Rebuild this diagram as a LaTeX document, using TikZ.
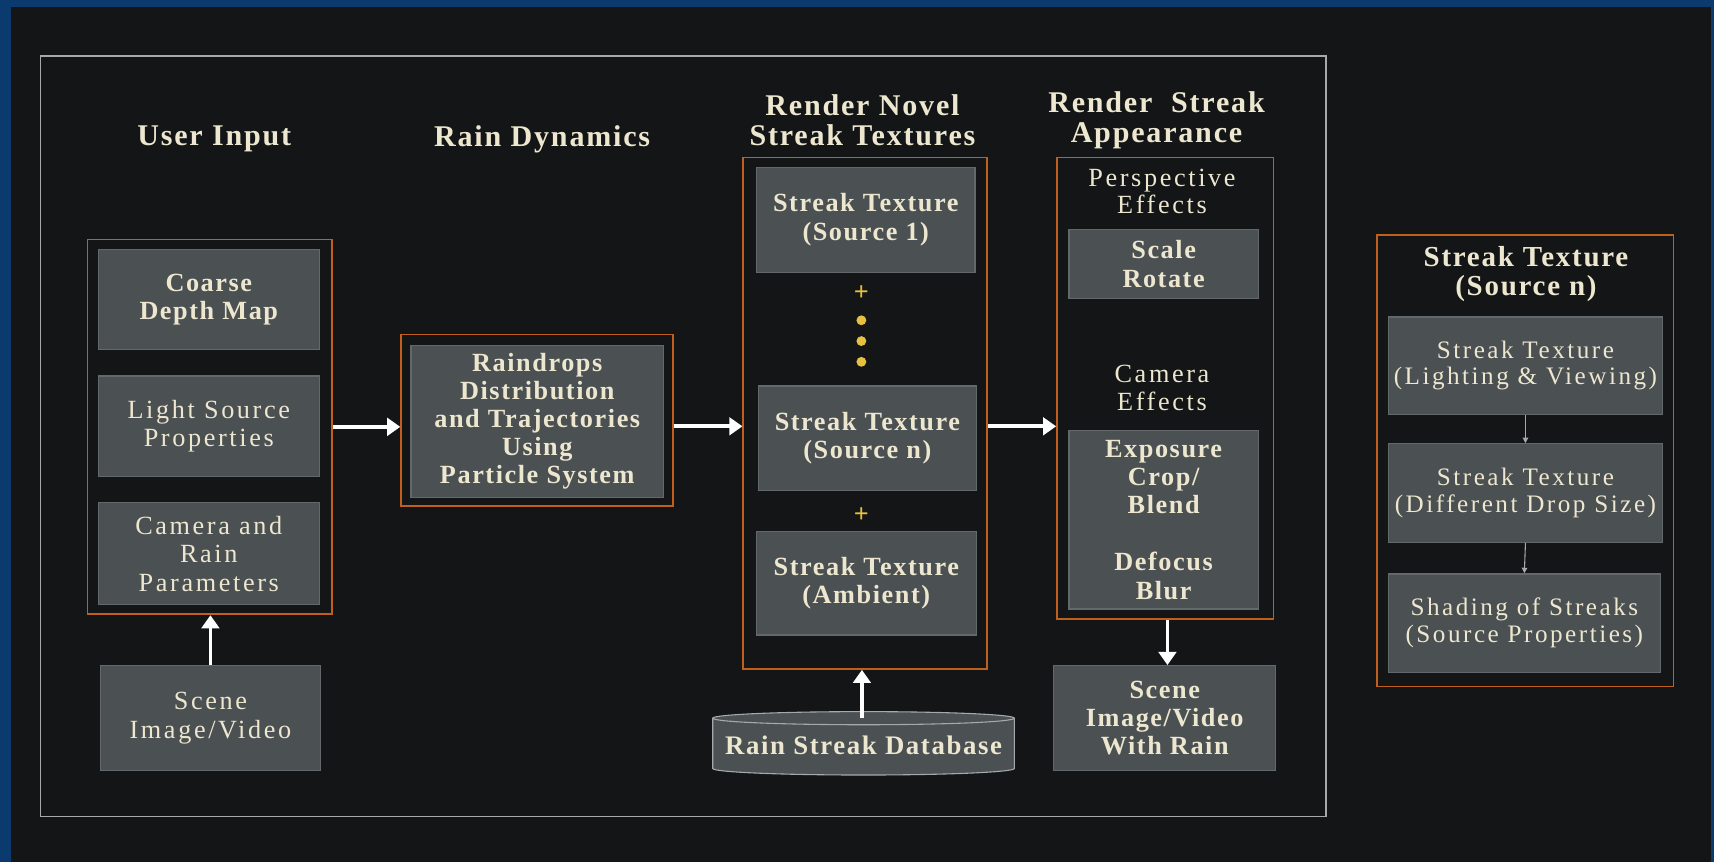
\documentclass[tikz,border=0pt]{standalone}
\usepackage{fontspec}
\setmainfont[LetterSpace=10, BoldFeatures={LetterSpace=6}]{Liberation Serif}
\usetikzlibrary{arrows.meta}
\definecolor{bgdark}{HTML}{131517}
\definecolor{frameblue}{HTML}{0B3A6E}
\definecolor{boxgray}{HTML}{4B5053}
\definecolor{boxedge}{HTML}{62686C}
\definecolor{orng}{HTML}{C0601C}
\definecolor{txt}{HTML}{EDE7CF}
\definecolor{outline}{HTML}{A8A8A8}
\definecolor{dotyel}{HTML}{E8C040}
\begin{document}
\begin{tikzpicture}[x=1pt,y=-1pt,
  gbox/.style={draw=boxedge, fill=boxgray, line width=1.2pt, inner sep=0pt, align=center, text=txt,
    font=\fontsize{24}{26}\selectfont},
  bgbox/.style={gbox, font=\fontsize{24}{26}\selectfont\bfseries},
  obox/.style={draw=orng, line width=1.6pt, inner sep=0pt},
  title/.style={text=txt, align=center, font=\fontsize{27.5}{28}\selectfont\bfseries},
  sub/.style={text=txt, align=center, font=\fontsize{24}{25}\selectfont},
  bigarrow/.style={draw=white, line width=3.5pt, -{Triangle[width=16pt,length=12pt]}},
  thinarrow/.style={draw=outline, line width=1pt, -{Triangle[width=5pt,length=5pt]}},
  plus/.style={text=dotyel, font=\fontsize{24}{24}\selectfont\bfseries},
  ydot/.style={circle, fill=dotyel, inner sep=0pt, minimum size=9pt}
]
% background and frame
\fill[frameblue] (0,0) rectangle (1568,789);
\fill[bgdark] (10,6.5) rectangle (1565,789);
\draw[outline, line width=1.5pt] (37,51) rectangle (1213,747);

% column titles
\node[title] (tUser) at (196,127) {User Input};
\node[title] (tRain) at (496,127) {Rain Dynamics};
\node[title] (tNovel) at (789,110) {Render Novel\\Streak Textures};
\node[title] (tApp) at (1058,110) {Render~~Streak\\Appearance};

% user input
\node[obox, minimum width=224pt, minimum height=343pt] (ui) at (192,390.5) {};
\node[bgbox, minimum width=202pt, minimum height=92pt] (depth) at (191,274) {Coarse\\Depth Map};
\node[gbox, minimum width=202pt, minimum height=92pt] (light) at (191,390) {Light Source\\Properties};
\node[gbox, minimum width=202pt, minimum height=93pt] (cam) at (191,506.5) {Camera and\\Rain\\Parameters};
\node[gbox, minimum width=201pt, minimum height=96pt] (scene) at (192.5,657) {Scene\\Image/Video};

% rain dynamics
\node[obox, minimum width=249pt, minimum height=157pt] (rainO) at (491.5,384.5) {};
\node[bgbox, font=\fontsize{24}{25.5}\selectfont\bfseries, minimum width=231pt, minimum height=139pt] (rain) at (491.5,385.5) {Raindrops\\Distribution\\and Trajectories\\Using\\Particle System};

% render novel streak textures
\node[obox, minimum width=223pt, minimum height=468pt] (novel) at (791.5,378) {};
\node[bgbox, minimum width=200pt, minimum height=96pt] (s1) at (792,201) {Streak Texture\\(Source 1)};
\node[bgbox, minimum width=199pt, minimum height=96pt] (sn) at (793.5,401) {Streak Texture\\(Source n)};
\node[bgbox, minimum width=201pt, minimum height=95pt] (amb) at (792.5,533.5) {Streak Texture\\(Ambient)};
\node[plus] (p1) at (788,268) {+};
\node[plus] (p2) at (788,471) {+};
\node[ydot] (d1) at (788,293) {};
\node[ydot] (d2) at (788,312) {};
\node[ydot] (d3) at (788,331) {};

% database
\fill[boxgray, draw=outline, line width=1pt] (652,657) -- (652,703) arc[start angle=180, end angle=360, x radius=138pt, y radius=6pt] -- (928,657) arc[start angle=0, end angle=180, x radius=138pt, y radius=6pt] -- cycle;
\draw[outline, line width=1pt] (652,657) arc[start angle=180, end angle=360, x radius=138pt, y radius=6pt];
\node[text=txt, font=\fontsize{24.5}{26}\selectfont\bfseries, minimum width=276pt, minimum height=56pt, inner sep=0pt] (db) at (790,682) {Rain Streak Database};

% render streak appearance
\node[obox, minimum width=198pt, minimum height=422pt] (app) at (1066,355) {};
\node[sub] (pers) at (1063,175) {Perspective\\Effects};
\node[bgbox, minimum width=173pt, minimum height=63pt] (scale) at (1064.5,241.5) {Scale\\Rotate};
\node[sub] (came) at (1063,355) {Camera\\Effects};
\node[bgbox, minimum width=173pt, minimum height=163pt] (expo) at (1064.5,475.5) {Exposure\\Crop/\\Blend\\[26pt]Defocus\\Blur};
\node[bgbox, font=\fontsize{24}{25.5}\selectfont\bfseries, minimum width=203pt, minimum height=96pt] (out) at (1065.5,657) {Scene\\Image/Video\\With Rain};

% right panel
\node[obox, minimum width=271pt, minimum height=413pt] (rp) at (1395.5,421.5) {};
\node[title, font=\fontsize{26.5}{27}\selectfont\bfseries] (rpt) at (1396,250.5) {Streak Texture\\(Source n)};
\node[gbox, font=\fontsize{23}{24}\selectfont, minimum width=251pt, minimum height=89pt] (r1) at (1395.5,334.5) {Streak Texture\\(Lighting \& Viewing)};
\node[gbox, font=\fontsize{23}{25}\selectfont, minimum width=251pt, minimum height=90pt] (r2) at (1395.5,451) {Streak Texture\\(Different Drop Size)};
\node[gbox, font=\fontsize{23}{25}\selectfont, minimum width=249pt, minimum height=90pt] (r3) at (1394.5,570) {Shading of Streaks\\(Source Properties)};

% connectors
\draw[bigarrow] (ui.east) -- (ui.east -| rainO.west);
\draw[bigarrow] ([yshift=-5.5pt]rainO.east) -- ([yshift=-5.5pt]rainO.east -| novel.west);
\draw[bigarrow] ([yshift=-12pt]novel.east) -- ([yshift=-12pt]novel.east -| app.west);
\draw[bigarrow] (scene.north) -- (scene.north |- ui.south);
\draw[bigarrow] ([xshift=-1.5pt,yshift=-3pt]db.north) -- ([xshift=-1.5pt]db.north |- novel.south);
\draw[bigarrow] ([xshift=2pt]app.south) -- ([xshift=2pt]app.south |- out.north);
\draw[thinarrow] (r1.south) -- (r2.north);
\draw[thinarrow] (r2.south) -- (r3.north);
\end{tikzpicture}
\end{document}
